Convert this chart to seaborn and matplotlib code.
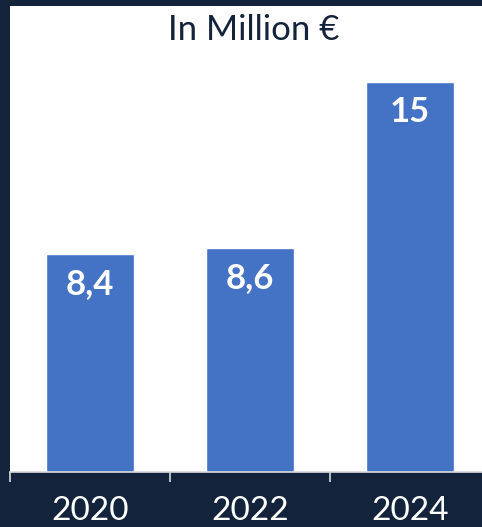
import matplotlib
matplotlib.use("Agg")
import matplotlib.pyplot as plt
import seaborn as sns
import pandas as pd

years = ["2020", "2022", "2024"]
values = [8.4, 8.6, 15]
labels = ["8,4", "8,6", "15"]
title = "In Million €"

sns.set_theme(style="white")
plt.rcParams['font.family'] = ['Lato', 'DejaVu Sans']

navy = "#12233b"
blue = "#4472c4"

fig = plt.figure(figsize=(4.82, 5.27), dpi=100, facecolor=navy)
ax = fig.add_axes([10/482, 55/527, 480/482, 466/527])
ax.set_facecolor("white")

df = pd.DataFrame({"year": years, "value": values})
sns.barplot(data=df, x="year", y="value", color=blue, width=0.55,
            saturation=1, ax=ax)

ax.set_xlim(-0.5, 2.5)
ax.set_ylim(0, 466/26)

for i, (v, lab) in enumerate(zip(values, labels)):
    ax.annotate(lab, (i, v), xytext=(0, -21.6), textcoords="offset points",
                ha="center", va="center", color="white", fontsize=25,
                fontweight="bold")

ax.text(0.5 + 4/480, 1 - 24/466, title, transform=ax.transAxes, ha="center",
        va="center", fontsize=25, color=navy)

for s in ["top", "right", "left"]:
    ax.spines[s].set_visible(False)
ax.spines["bottom"].set_color("#d9d9d9")
ax.spines["bottom"].set_linewidth(1.2)

ax.set_yticks([])
ax.set_xlabel("")
ax.set_ylabel("")
ax.set_xticks([0, 1, 2])
ax.set_xticklabels(years)
ax.set_xticks([-0.5, 0.5, 1.5, 2.5], minor=True)
ax.tick_params(axis="x", which="major", length=0, pad=17, labelsize=24,
               labelcolor="white")
ax.tick_params(axis="x", which="minor", length=7, width=1.2, color="#d9d9d9",
               bottom=True, direction="out")

fig.savefig("out.png", dpi=100, facecolor=navy)
